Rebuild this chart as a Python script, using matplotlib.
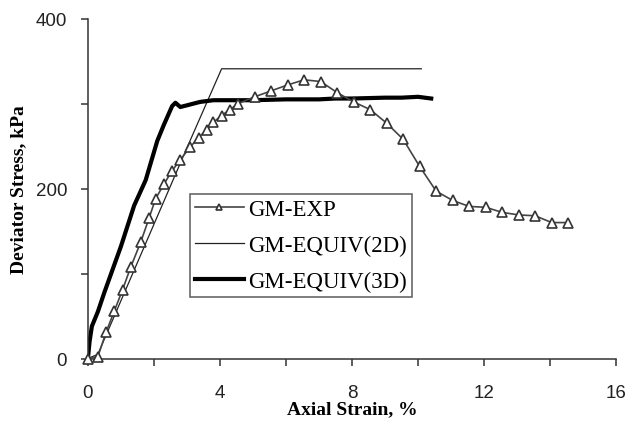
import matplotlib.pyplot as plt

# GM-EXP (experimental points)
exp_strain = [0, 0.3, 0.55, 0.8, 1.05, 1.3, 1.6, 1.85, 2.05, 2.3, 2.55, 2.8,
              3.1, 3.35, 3.6, 3.8, 4.05, 4.3, 4.55, 5.05, 5.55, 6.05, 6.55,
              7.05, 7.55, 8.05, 8.55, 9.05, 9.55, 10.05, 10.55, 11.05, 11.55,
              12.05, 12.55, 13.05, 13.55, 14.05, 14.55]
exp_stress = [0, 2, 31, 56, 81, 108, 137, 165, 188, 205, 221, 234, 249, 260,
              269, 278, 286, 293, 300, 308, 315, 322, 328, 326, 313, 302, 293,
              277, 258, 226, 197, 186, 179, 178, 172, 169, 168, 160, 160]

# GM-EQUIV(2D)
eq2d_strain = [0, 0.3, 3.0, 3.7, 4.05, 10.1]
eq2d_stress = [0, 5, 248, 310, 341, 341]

# GM-EQUIV(3D)
eq3d_strain = [0, 0.05, 0.12, 0.3, 0.5, 0.75, 1.0, 1.4, 1.75, 2.1, 2.3, 2.55,
               2.65, 2.8, 3.0, 3.4, 3.8, 5.0, 6.0, 7.0, 7.5, 8.0, 9.0, 9.5,
               10.0, 10.4]
eq3d_stress = [0, 20, 38, 55, 78, 105, 132, 180, 210, 256, 275, 297, 301, 296,
               298, 302, 304, 304, 305, 305, 306, 306, 307, 307, 308, 306]

x_ticks = list(range(0, 17, 2))
y_ticks = list(range(0, 401, 100))


def main():
    fig = plt.figure(figsize=(6.28, 4.27), dpi=100)
    ax = fig.add_axes([0.140, 0.158, 0.841, 0.796])

    ax.plot(exp_strain, exp_stress, color='#444444', lw=1.2, marker='^',
            ms=7.5, mfc='white', mec='#333333', mew=1.2, clip_on=False,
            label='GM-EXP', zorder=3)
    ax.plot(eq2d_strain, eq2d_stress, color='#222222', lw=0.9,
            label='GM-EQUIV(2D)', zorder=2)
    ax.plot(eq3d_strain, eq3d_stress, color='black', lw=3.0,
            label='GM-EQUIV(3D)', zorder=2)

    ax.set_xlim(0, 16)
    ax.set_ylim(0, 400)
    ax.set_xticks(x_ticks)
    ax.set_xticklabels([str(t) if t % 4 == 0 else '' for t in x_ticks])
    ax.set_yticks(y_ticks)
    ax.set_yticklabels([str(t) if t % 200 == 0 else '' for t in y_ticks])
    ax.tick_params(direction='out', length=5, width=1.1, colors='#333333',
                   labelsize=13.5, labelcolor='#222222')
    ax.tick_params(axis='x', pad=13)
    ax.tick_params(axis='y', pad=10)
    for lab in ax.get_xticklabels() + ax.get_yticklabels():
        lab.set_fontfamily('Liberation Sans')

    for side in ('top', 'right'):
        ax.spines[side].set_visible(False)
    for side in ('left', 'bottom'):
        ax.spines[side].set_color('#333333')
        ax.spines[side].set_linewidth(1.1)

    ax.set_xlabel('Axial Strain, %', family='Liberation Serif',
                  weight='bold', fontsize=14, labelpad=0)
    ax.set_ylabel('Deviator Stress, kPa', family='Liberation Serif',
                  weight='bold', fontsize=14, labelpad=6)

    leg = ax.legend(loc='upper left', bbox_to_anchor=(0.3025, 0.5433),
                    bbox_transform=fig.transFigure, borderaxespad=0,
                    prop={'family': 'Liberation Serif', 'size': 16.5},
                    frameon=True, fancybox=False, borderpad=0.2,
                    handlelength=2.15, handletextpad=0.2, labelspacing=0.66,
                    markerscale=0.6)
    leg.get_frame().set_edgecolor('#333333')
    leg.get_frame().set_linewidth(1.1)

    fig.savefig('out.png', dpi=100)


if __name__ == "__main__":
    main()
